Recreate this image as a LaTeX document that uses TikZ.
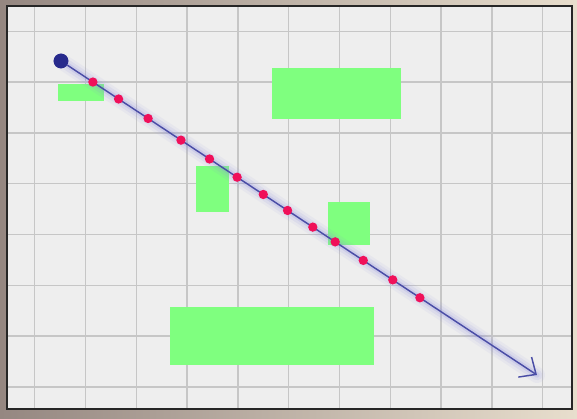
\documentclass[tikz,border=0pt]{standalone}
\usetikzlibrary{arrows.meta}
\usepackage{xcolor}
\definecolor{frameback}{HTML}{958781}
\definecolor{framelight}{HTML}{E8DECD}
\definecolor{paper}{HTML}{EEEEEE}
\definecolor{gridgray}{HTML}{C6C6C6}
\definecolor{navy}{HTML}{272A8C}
\definecolor{raycol}{HTML}{4A4DA6}
\definecolor{glow}{HTML}{8C8CE0}
\definecolor{hitred}{HTML}{F0105A}
\definecolor{blockgreen}{HTML}{7FFF7F}

\begin{document}
\begin{tikzpicture}[x=0.75pt, y=-0.75pt,
    gridline/.style={draw=gridgray, line width=1.1pt},
    block/.style={fill=blockgreen},
    source/.style={circle, fill=navy, inner sep=0pt, minimum size=11pt},
    hit/.style={circle, fill=hitred, inner sep=0pt, minimum size=7pt},
    ray/.style={draw=raycol, line width=1.1pt, -{Straight Barb[length=10pt, width=18pt]}},
    halo/.style={draw=glow, line cap=round},
]

\useasboundingbox (0,0) rectangle (577,418);
\shade[left color=frameback, right color=framelight] (0,0) rectangle (577,418);
\fill[paper] (7,6) rectangle (572,409);

\begin{scope}
    \clip (7,6) rectangle (572,409);
    \foreach \i in {0,...,10} {
        \draw[gridline] ({34.7+50.8*\i},6) -- ++(0,403);
    }
    \foreach \j in {0,...,7} {
        \draw[gridline] (7,{31.3+50.8*\j}) -- ++(565,0);
    }
\end{scope}
\draw[line width=1.2pt, black!85] (7,6) rectangle (572,409);

\fill[block] (58,84) rectangle (104,101);
\fill[block] (272,68) rectangle (401,119);
\fill[block] (196,166) rectangle (229,212);
\fill[block] (328,202) rectangle (370,245);
\fill[block] (170,307) rectangle (374,365);

\node[source] (src) at (61,61) {};
\coordinate (tip) at (537,375);

\draw[halo, line width=12pt, opacity=0.08] (src.center) -- (tip);
\draw[halo, line width=8pt, opacity=0.12] (src.center) -- (tip);
\draw[halo, line width=4pt, opacity=0.2] (src.center) -- (tip);
\draw[ray] (src) -- (tip);

\path (src.center) -- (tip)
    \foreach \t [count=\n] in {0.067, 0.121, 0.183, 0.252, 0.312, 0.370, 0.425, 0.476, 0.529, 0.576, 0.635, 0.697, 0.754} {
        node[hit, pos=\t] (h\n) {}
    };

\node[source] at (src) {};

\end{tikzpicture}
\end{document}
